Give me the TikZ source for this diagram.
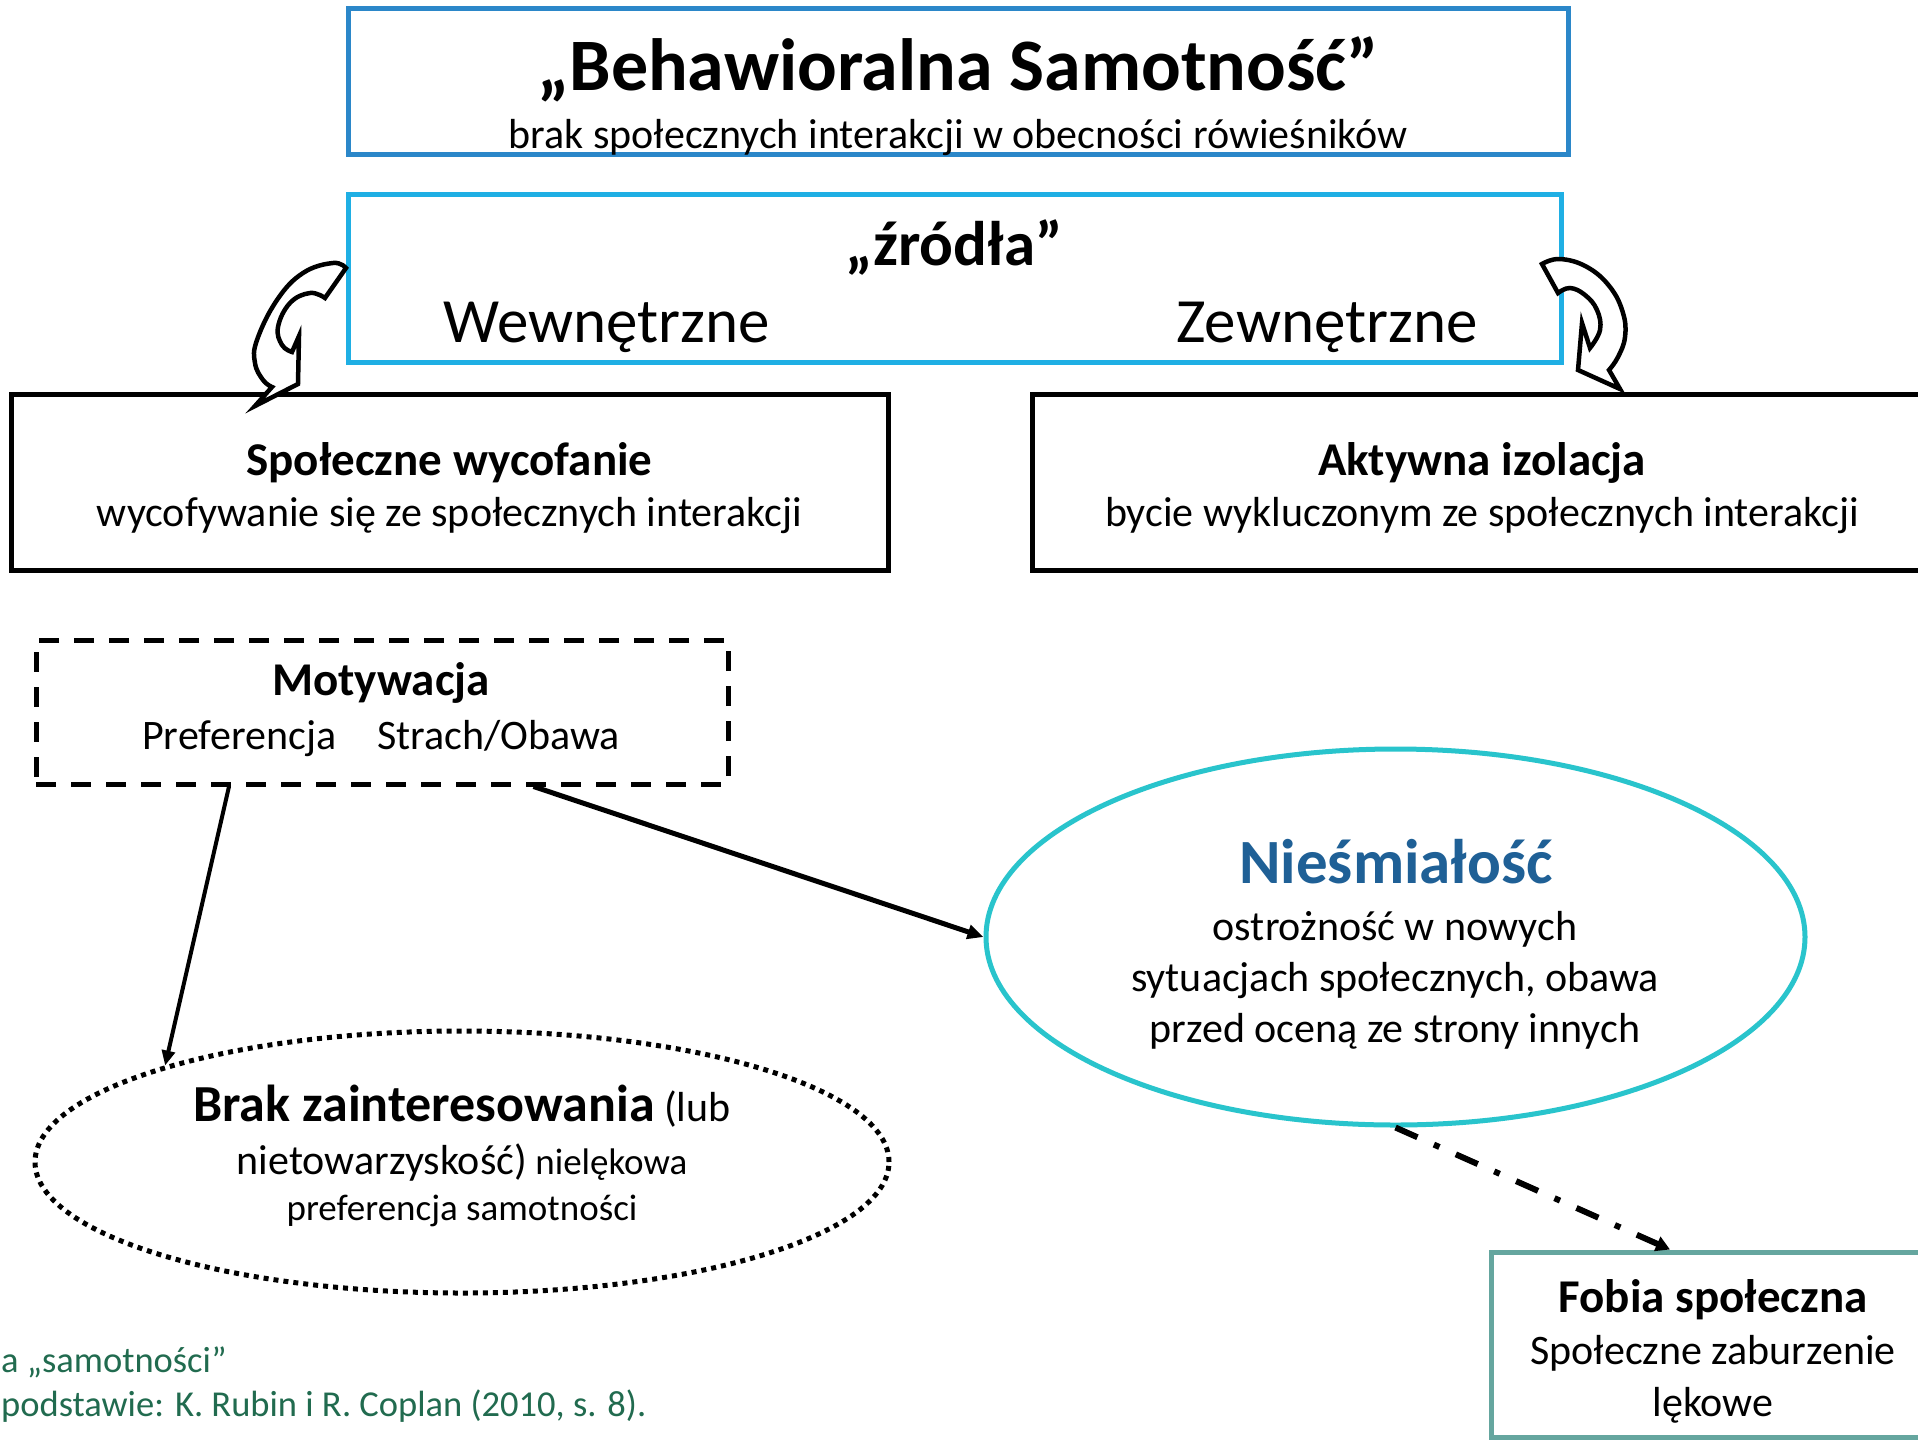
\documentclass[tikz,border=0pt]{standalone}
\usepackage{fontspec}
\setmainfont{Carlito}
\usetikzlibrary{arrows.meta,shapes.geometric,calc}
\definecolor{boxblue}{RGB}{43,135,201}
\definecolor{srcblue}{RGB}{31,175,228}
\definecolor{tealring}{RGB}{41,196,204}
\definecolor{shyblue}{RGB}{31,96,150}
\definecolor{fobiagreen}{RGB}{101,166,159}
\definecolor{notegreen}{RGB}{33,107,79}
\newcommand{\fsz}[1]{\fontsize{#1pt}{#1pt}\selectfont}
\begin{document}
\begin{tikzpicture}[x=1pt,y=-1pt,
  frame/.style={draw, line width=5pt, rectangle, inner sep=0pt},
  oval/.style={draw, line width=5pt, ellipse, inner sep=0pt},
  lbl/.style={inner sep=0pt, anchor=base},
  head/.style={lbl, font=\bfseries\fsz{47}},
  body/.style={lbl, font=\fsz{42}},
  big/.style={lbl, font=\fsz{63}},
  curv/.style={draw, line width=4.5pt, fill=white, line join=miter},
  conn/.style={draw, line width=4.5pt}
]
\path[use as bounding box] (0,0) rectangle (1918,1440);
\fill[white] (0,0) rectangle (1918,1440);
\clip (0,0) rectangle (1918,1440);

% top box
\node[frame, draw=boxblue, minimum width=1220pt, minimum height=145.5pt] (behav) at (958,81.25) {};
\node[lbl, font=\bfseries\fsz{74}] (behavT) at (958,90) {„Behawioralna Samotność”};
\node[body] (behavS) at (958,148) {brak społecznych interakcji w obecności rówieśników};

% sources box
\node[frame, draw=srcblue, minimum width=1213pt, minimum height=168pt] (src) at (954.5,278) {};
\node[lbl, font=\bfseries\fsz{63}] (srcT) at (954,265) {„źródła”};
\node[big] (inner) at (607,342) {Wewnętrzne};
\node[big] (outer) at (1327,342) {Zewnętrzne};

% withdrawal box
\node[frame, minimum width=877pt, minimum height=176.5pt] (withd) at (449.5,482.25) {};
\node[head] (withdT) at (449.5,475) {Społeczne wycofanie};
\node[body] (withdS) at (449.5,526) {wycofywanie się ze społecznych interakcji};

% isolation box
\node[frame, minimum width=900pt, minimum height=176pt] (isol) at (1482,482.5) {};
\node[head] (isolT) at (1482,475) {Aktywna izolacja};
\node[body] (isolS) at (1482,526) {bycie wykluczonym ze społecznych interakcji};

% motivation box
\node[frame, dash pattern=on 20pt off 15pt, minimum width=692pt, minimum height=144pt] (motiv) at (382,712) {};
\node[head] (motivT) at (381,695) {Motywacja};
\node[body, anchor=base west] (pref) at (142,749) {Preferencja};
\node[body, anchor=base west] (fear) at (377,749) {Strach/Obawa};

% unsociability ellipse
\node[oval, dash pattern=on 5pt off 5pt, minimum width=854pt, minimum height=262pt] (unsoc) at (462,1162) {};
\node[lbl, font=\fsz{42}] (unsoc1) at (462,1121) {{\bfseries\fsz{52}Brak zainteresowania} (lub};
\node[lbl, font=\fsz{37}] (unsoc2) at (462,1174) {{\fsz{42}nietowarzyskość)} nielękowa};
\node[lbl, font=\fsz{37}] (unsoc3) at (462,1220) {preferencja samotności};

% shyness ellipse
\node[oval, draw=tealring, minimum width=819pt, minimum height=376pt] (shy) at (1395.5,937) {};
\node[lbl, font=\bfseries\fsz{63}, text=shyblue] (shyT) at (1396,883) {Nieśmiałość};
\node[body] (shy1) at (1395,940) {ostrożność w nowych};
\node[body] (shy2) at (1395,991) {sytuacjach społecznych, obawa};
\node[body] (shy3) at (1395,1042) {przed oceną ze strony innych};

% social phobia box
\node[frame, draw=fobiagreen, minimum width=442pt, minimum height=185pt] (phob) at (1712.5,1344.5) {};
\node[head] (phobT) at (1713,1312) {Fobia społeczna};
\node[body] (phob1) at (1713,1364) {Społeczne zaburzenie};
\node[body] (phob2) at (1713,1416) {lękowe};

% source note
\node[lbl, anchor=base west, text=notegreen, font=\fsz{36.5}] (note1) at (1,1372) {a „samotności”};
\node[lbl, anchor=base west, text=notegreen, font=\fsz{36.5}] (note2) at (1,1416) {podstawie: K. Rubin i R. Coplan (2010, s. 8).};

% curved block arrows
\draw[curv] plot[smooth, tension=0.7] coordinates {(346,268) (333,263) (303,273) (277,300) (257,340) (255,363) (263,380) (272,387)}
  -- (255,406) -- (298,384) -- (299,336) -- (292,352)
  -- plot[smooth, tension=0.7] coordinates {(292,352) (282,345) (278,327) (290,303) (310,293) (325,298)} -- cycle;
\draw[curv] plot[smooth, tension=0.7] coordinates {(1542,264) (1560,259) (1587,267) (1610,287) (1623,313) (1625,337) (1618,357) (1609,370)}
  -- (1620,389) -- (1578,370) -- (1582,323) -- (1590,348)
  -- plot[smooth, tension=0.7] coordinates {(1590,348) (1600,330) (1597,310) (1585,295) (1570,288) (1558,293)} -- cycle;

% connectors
\draw[conn, line width=4pt, -{Triangle[length=15pt,width=13pt]}] ($(motiv.south west)+(195.5,0)$) -- (unsoc.162);
\draw[conn, line width=5pt, -{Triangle[length=16pt,width=14pt]}] ($(motiv.south west)+(500,0)$) -- (shy.west);
\draw[conn, line width=6pt, dash pattern=on 24pt off 18pt on 6pt off 18pt, -{Triangle[length=14pt,width=15pt]}] (shy.south) -- ($(phob.north west)+(181,0)$);
\end{tikzpicture}
\end{document}
